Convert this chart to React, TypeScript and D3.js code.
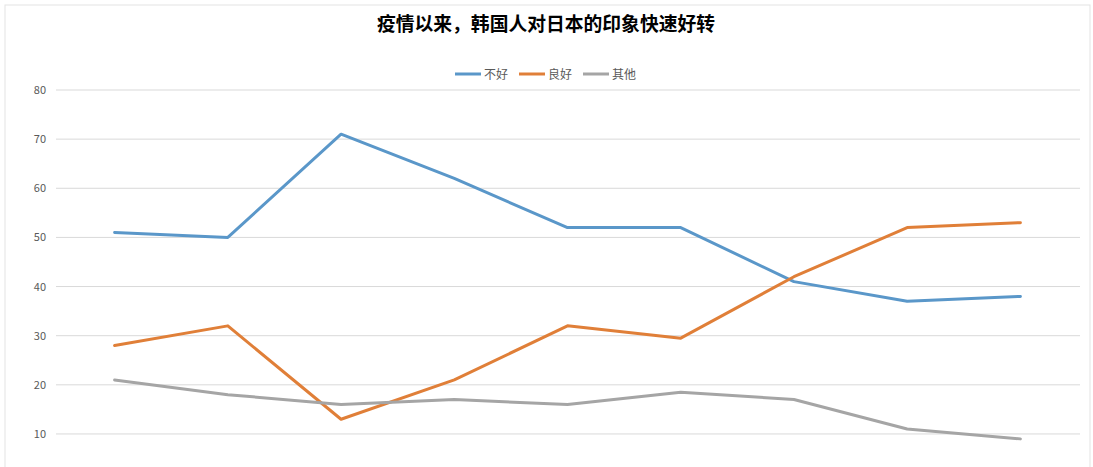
import React from "react";
import * as d3 from "d3";

const categories = ["1", "2", "3", "4", "5", "6", "7", "8", "9"];
const seriesNames = ["不好", "良好", "其他"];
const badValues = [51, 50, 71, 62, 52, 52, 41, 37, 38];
const goodValues = [28, 32, 13, 21, 32, 29.5, 42, 52, 53];
const otherValues = [21, 18, 16, 17, 16, 18.5, 17, 11, 9];
const yTicks = [10, 20, 30, 40, 50, 60, 70, 80];
const colors = ["#5a97c9", "#e07f38", "#a5a5a5"];
const title = "疫情以来，韩国人对日本的印象快速好转";

const W = 1093;
const H = 467;
const FONT = "'Noto Sans CJK SC', 'Microsoft YaHei', sans-serif";

export default function App() {
  const x = d3.scaleBand<string>().domain(categories).range([58, 1077]);
  const y = d3.scaleLinear().domain([0, 80]).range([483.1, 90]);
  const line = d3
    .line<number>()
    .x((_, i) => (x(categories[i]) as number) + x.bandwidth() / 2)
    .y((d) => y(d));
  const all = [badValues, goodValues, otherValues];

  const legendX = [455, 519, 583];

  return (
    <div style={{ position: "absolute", left: 0, top: 0 }}>
      <svg width={W} height={H} style={{ display: "block", background: "#fff" }}>
        <rect x={5} y={5} width={1085} height={H + 10} fill="#fff" stroke="#e3e3e3" strokeWidth={1} />
        <text x={546} y={31} textAnchor="middle" fontFamily={FONT} fontSize={18.8} fontWeight="bold" fill="#000">
          {title}
        </text>
        {seriesNames.map((n, i) => (
          <g key={n}>
            <line x1={legendX[i]} x2={legendX[i] + 26} y1={74} y2={74} stroke={colors[i]} strokeWidth={3} />
            <text x={legendX[i] + 29} y={78.5} fontFamily={FONT} fontSize={12} fill="#595959">
              {n}
            </text>
          </g>
        ))}
        {yTicks.map((t) => (
          <g key={t}>
            <line x1={56} x2={1080} y1={y(t)} y2={y(t)} stroke="#d9d9d9" strokeWidth={1} />
            <text x={46} y={y(t) + 4} textAnchor="end" fontFamily={FONT} fontSize={11} fill="#595959">
              {t}
            </text>
          </g>
        ))}
        {all.map((vals, i) => (
          <path
            key={i}
            d={line(vals) || ""}
            fill="none"
            stroke={colors[i]}
            strokeWidth={3}
            strokeLinejoin="round"
            strokeLinecap="round"
          />
        ))}
      </svg>
    </div>
  );
}
